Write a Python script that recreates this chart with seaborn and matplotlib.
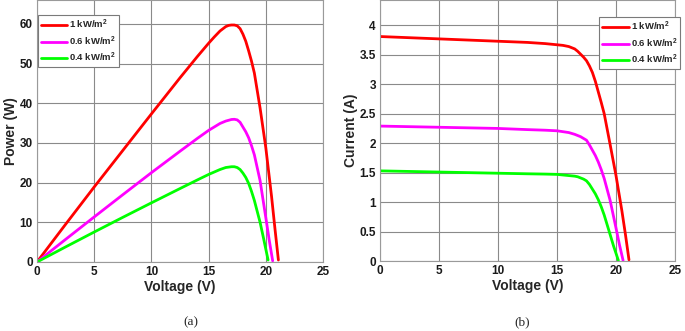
import numpy as np
import pandas as pd
import seaborn as sns
import matplotlib
matplotlib.use("Agg")
import matplotlib.pyplot as plt

# Curve data (voltage in V, current in A, power in W)
labels = [r"1 kW/m$^{\mathbf{2}}$", r"0.6 kW/m$^{\mathbf{2}}$", r"0.4 kW/m$^{\mathbf{2}}$"]
colors = ["#ff0000", "#ff00ff", "#00ff00"]

v_1000 = [0, 2.5, 5, 7.5, 10, 12.5, 14, 15, 15.5, 16, 16.5, 16.75, 17, 17.25, 17.5, 17.75, 18, 18.25, 18.5, 18.75, 19, 19.5, 20, 20.5, 20.8, 21.1]
i_1000 = [3.81, 3.79, 3.77, 3.75, 3.73, 3.71, 3.69, 3.67, 3.66, 3.64, 3.60, 3.56, 3.51, 3.46, 3.40, 3.31, 3.20, 3.05, 2.87, 2.69, 2.50, 1.98, 1.45, 0.85, 0.45, 0.02]
p_1000 = [0, 9.5, 18.9, 28.1, 37.3, 46.4, 51.7, 55.1, 56.7, 58.2, 59.3, 59.6, 59.7, 59.7, 59.5, 58.8, 57.4, 55.6, 53.2, 50.6, 47.6, 38.8, 28.8, 16.6, 8.4, 0.5]

v_600 = [0, 2.5, 5, 7.5, 10, 12.5, 14, 15, 16, 16.5, 16.75, 17, 17.25, 17.5, 17.75, 18, 18.25, 18.5, 18.75, 19, 19.5, 20, 20.3, 20.6]
i_600 = [2.29, 2.28, 2.27, 2.26, 2.25, 2.23, 2.22, 2.21, 2.18, 2.15, 2.13, 2.11, 2.08, 2.05, 1.97, 1.88, 1.79, 1.68, 1.55, 1.40, 1.03, 0.56, 0.27, 0.01]
p_600 = [0, 5.7, 11.35, 16.95, 22.5, 27.9, 31.1, 33.15, 34.9, 35.5, 35.7, 35.9, 35.95, 35.8, 35.2, 34.0, 32.8, 31.3, 29.3, 27.0, 20.5, 11.2, 5.5, 0.3]

v_400 = [0, 2.5, 5, 7.5, 10, 12.5, 14, 15, 16, 16.5, 16.75, 17, 17.25, 17.5, 17.75, 18, 18.25, 18.5, 18.75, 19, 19.5, 19.8, 20.2]
i_400 = [1.53, 1.52, 1.51, 1.50, 1.49, 1.48, 1.475, 1.47, 1.45, 1.44, 1.43, 1.41, 1.39, 1.36, 1.30, 1.22, 1.14, 1.04, 0.92, 0.78, 0.45, 0.25, 0.01]
p_400 = [0, 3.8, 7.55, 11.25, 14.9, 18.5, 20.65, 22.05, 23.3, 23.8, 23.9, 24.0, 24.0, 23.8, 23.3, 22.4, 21.3, 19.8, 17.8, 15.5, 10.0, 6.0, 0.5]

frames = []
for lab, v, i, p in zip(labels, [v_1000, v_600, v_400], [i_1000, i_600, i_400], [p_1000, p_600, p_400]):
    frames.append(pd.DataFrame({"Voltage": v, "Current": i, "Power": p, "G": lab}))
df = pd.concat(frames, ignore_index=True)

sns.set_theme(style="white")
plt.rcParams["font.family"] = ["Liberation Sans", "DejaVu Sans"]
plt.rcParams["font.weight"] = "bold"
plt.rcParams["mathtext.fontset"] = "custom"
plt.rcParams["mathtext.bf"] = "Liberation Sans:bold"
plt.rcParams["mathtext.rm"] = "Liberation Sans:bold"

fig = plt.figure(figsize=(6.85, 3.31), dpi=100)
ax1 = fig.add_axes([37 / 685, 69 / 331, 286 / 685, 262 / 331])
ax2 = fig.add_axes([380 / 685, 70 / 331, 295 / 685, 261 / 331])

palette = dict(zip(labels, colors))


def style_axis(ax, ylabel):
    ax.set_xlim(0, 25)
    ax.set_xticks([0, 5, 10, 15, 20, 25])
    ax.grid(True, color="#8a8a8a", linewidth=0.8)
    for s in ax.spines.values():
        s.set_color("#9a9a9a")
        s.set_linewidth(0.8)
    ax.tick_params(length=0, labelsize=8.5, colors="#1a1a1a", pad=3)
    for t in ax.get_xticklabels() + ax.get_yticklabels():
        t.set_fontweight("bold")
    ax.set_xlabel("Voltage (V)", fontsize=10, fontweight="bold", color="#262626", labelpad=1)
    ax.set_ylabel(ylabel, fontsize=10, fontweight="bold", color="#262626", labelpad=1)


sns.lineplot(data=df, x="Voltage", y="Power", hue="G", palette=palette, sort=False,
             estimator=None, linewidth=2, ax=ax1, legend=False)
ax1.set_ylim(0, 66)
ax1.set_yticks([0, 10, 20, 30, 40, 50, 60])
style_axis(ax1, "Power (W)")

sns.lineplot(data=df, x="Voltage", y="Current", hue="G", palette=palette, sort=False,
             estimator=None, linewidth=2, ax=ax2, legend=False)
ax2.set_ylim(0, 4.43)
ax2.set_yticks([0, 0.5, 1, 1.5, 2, 2.5, 3, 3.5, 4])
ax2.set_yticklabels(["0", "0.5", "1", "1.5", "2", "2.5", "3", "3.5", "4"])
style_axis(ax2, "Current (A)")

handles = [plt.Line2D([], [], color=c, linewidth=2) for c in colors]
leg_kw = dict(handlelength=2.8, labelspacing=0.35, borderpad=0.3,
              handletextpad=0.2, frameon=True, fancybox=False, framealpha=1,
              prop={"weight": "bold", "size": 6.8}, borderaxespad=0)
leg1 = ax1.legend(handles, labels, loc="upper left", bbox_to_anchor=(0.003, 0.943), **leg_kw)
leg2 = ax2.legend(handles, labels, loc="upper right", bbox_to_anchor=(1.017, 0.935), **leg_kw)
for leg in (leg1, leg2):
    leg.get_frame().set_edgecolor("#7a7a7a")
    leg.get_frame().set_linewidth(0.8)
    leg.set_zorder(5)

fig.text(191 / 685, 1 - 322 / 331, "(a)", ha="center", va="center",
         fontsize=9.5, fontweight="normal", family=["Liberation Serif", "DejaVu Serif"])
fig.text(522 / 685, 1 - 322 / 331, "(b)", ha="center", va="center",
         fontsize=9.5, fontweight="normal", family=["Liberation Serif", "DejaVu Serif"])

fig.savefig("out.png", dpi=100)
